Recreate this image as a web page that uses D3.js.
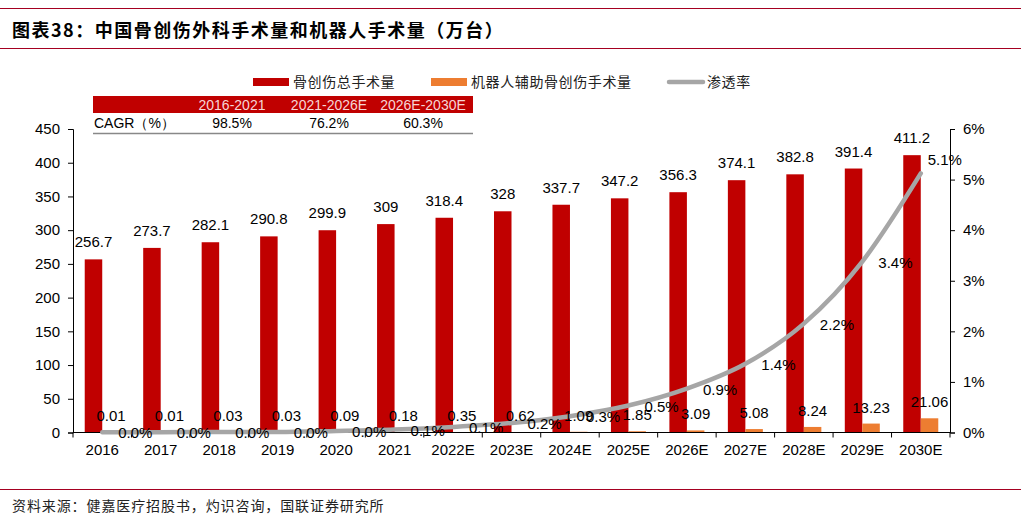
<!DOCTYPE html>
<html>
<head>
<meta charset="utf-8">
<script src="https://cdn.jsdelivr.net/npm/d3@7"></script>
<style>
  body { margin: 0; background: #fff; }
</style>
</head>
<body>
<div id="chart"></div>
<script>
// data
const years = ["2016", "2017", "2018", "2019", "2020", "2021", "2022E", "2023E", "2024E", "2025E", "2026E", "2027E", "2028E", "2029E", "2030E"];
const totalOps = [256.7, 273.7, 282.1, 290.8, 299.9, 309, 318.4, 328, 337.7, 347.2, 356.3, 374.1, 382.8, 391.4, 411.2];
const robotOps = [0.01, 0.01, 0.03, 0.03, 0.09, 0.18, 0.35, 0.62, 1.09, 1.85, 3.09, 5.08, 8.24, 13.23, 21.06];
const penetration = [0.004, 0.004, 0.011, 0.010, 0.030, 0.058, 0.110, 0.189, 0.323, 0.533, 0.867, 1.358, 2.153, 3.380, 5.122];
const leftTicks = [0, 50, 100, 150, 200, 250, 300, 350, 400, 450];
const rightTicks = [0, 1, 2, 3, 4, 5, 6];
const cagrPeriods = ["2016-2021", "2021-2026E", "2026E-2030E"];
const cagrValues = ["98.5%", "76.2%", "60.3%"];
const seriesNames = ["骨创伤总手术量", "机器人辅助骨创伤手术量", "渗透率"];

const W = 1021, H = 520;
const RED = "#C00000", ORANGE = "#ED7D31", GRAY = "#A6A6A6", LINE_RED = "#A50021";
const SANS = "'Liberation Sans', Arial, sans-serif";
const CJK = "'Noto Sans CJK SC', sans-serif";
const plot = { left: 73, right: 950, top: 129, bottom: 432.5 };

const svg = d3.select("#chart").append("svg")
    .attr("width", W)
    .attr("height", H)
    .attr("font-family", SANS);

// title block
svg.append("line").attr("x1", 0).attr("x2", W).attr("y1", 8.5).attr("y2", 8.5)
    .attr("stroke", LINE_RED).attr("stroke-width", 1);
svg.append("line").attr("x1", 0).attr("x2", W).attr("y1", 48.5).attr("y2", 48.5)
    .attr("stroke", LINE_RED).attr("stroke-width", 1);
svg.append("text")
    .attr("font-family", CJK)
    .attr("x", 12).attr("y", 37)
    .attr("font-size", 18).attr("font-weight", "bold").attr("fill", "#000")
    .attr("letter-spacing", 1.5)
    .text("图表38：中国骨创伤外科手术量和机器人手术量（万台）");

// footer
svg.append("line").attr("x1", 0).attr("x2", W).attr("y1", 489.5).attr("y2", 489.5)
    .attr("stroke", LINE_RED).attr("stroke-width", 1);
svg.append("text")
    .attr("font-family", CJK)
    .attr("x", 12).attr("y", 511)
    .attr("font-size", 14).attr("fill", "#222")
    .attr("letter-spacing", 0.9)
    .text("资料来源：健嘉医疗招股书，灼识咨询，国联证券研究所");

// scales
const x = d3.scaleBand().domain(years).range([plot.left, plot.right]).padding(0);
const xInner = d3.scaleBand().domain(["total", "robot"]).range([0, x.bandwidth()]).paddingOuter(0.67);
const y = d3.scaleLinear().domain([0, 450]).range([plot.bottom, plot.top]);
const yr = d3.scaleLinear().domain([0, 6]).range([plot.bottom, plot.top]);

// bars
const g = svg.append("g");
g.selectAll(".bar-total")
    .data(years)
    .enter().append("rect")
    .attr("class", "bar-total")
    .attr("x", d => x(d) + xInner("total"))
    .attr("width", xInner.bandwidth())
    .attr("y", (d, i) => y(totalOps[i]))
    .attr("height", (d, i) => y(0) - y(totalOps[i]))
    .attr("fill", RED);

g.selectAll(".bar-robot")
    .data(years)
    .enter().append("rect")
    .attr("class", "bar-robot")
    .attr("x", d => x(d) + xInner("robot"))
    .attr("width", xInner.bandwidth())
    .attr("y", (d, i) => y(robotOps[i]))
    .attr("height", (d, i) => y(0) - y(robotOps[i]))
    .attr("fill", ORANGE);

// axes
const yAxis = svg.append("g")
    .attr("transform", "translate(" + plot.left + ",0)")
    .call(d3.axisLeft(y).tickValues(leftTicks).tickSize(5).tickPadding(8));
const yrAxis = svg.append("g")
    .attr("transform", "translate(" + plot.right + ",0)")
    .call(d3.axisRight(yr).tickValues(rightTicks).tickSize(5).tickPadding(8).tickFormat(d => d + "%"));
[yAxis, yrAxis].forEach(a => {
    a.select(".domain").attr("stroke", "#000");
    a.selectAll(".tick line").attr("stroke", "#000");
    a.selectAll("text").attr("font-size", 15).attr("fill", "#000").attr("font-family", SANS);
});

const xAxis = svg.append("g")
    .attr("transform", "translate(0," + plot.bottom + ")")
    .call(d3.axisBottom(x).tickSize(0).tickPadding(12));
xAxis.select(".domain").remove();
xAxis.selectAll("text").attr("font-size", 15).attr("fill", "#000").attr("font-family", SANS);
xAxis.append("line")
    .attr("x1", plot.left).attr("x2", plot.right)
    .attr("stroke", "#000");
xAxis.selectAll(".sep")
    .data(years.concat(["end"]))
    .enter().append("line")
    .attr("class", "sep")
    .attr("x1", d => d === "end" ? plot.right : x(d))
    .attr("x2", d => d === "end" ? plot.right : x(d))
    .attr("y1", 0).attr("y2", 5)
    .attr("stroke", "#000");

// penetration line
const cx = d => x(d) + x.bandwidth() / 2;
const line = d3.line()
    .x(d => cx(d))
    .y((d, i) => yr(penetration[i]))
    .curve(d3.curveMonotoneX);
svg.append("path")
    .datum(years)
    .attr("d", line)
    .attr("fill", "none")
    .attr("stroke", GRAY)
    .attr("stroke-width", 4.5)
    .attr("stroke-linecap", "round");

// value labels
const last = years.length - 1;
const labels = svg.append("g").attr("font-size", 15).attr("fill", "#000");
labels.selectAll(".lbl-total")
    .data(years)
    .enter().append("text")
    .attr("x", d => x(d) + xInner("total") + xInner.bandwidth() / 2)
    .attr("y", (d, i) => y(totalOps[i]) - 12)
    .attr("text-anchor", "middle")
    .text((d, i) => String(totalOps[i]));

labels.selectAll(".lbl-robot")
    .data(years)
    .enter().append("text")
    .attr("x", d => x(d) + xInner("robot") + xInner.bandwidth() / 2)
    .attr("y", (d, i) => y(robotOps[i]) - 11)
    .attr("text-anchor", "middle")
    .text((d, i) => d3.format(".2f")(robotOps[i]));

labels.selectAll(".lbl-pen")
    .data(years)
    .enter().append("text")
    .attr("x", (d, i) => cx(d) + (i === last ? 7 : 16))
    .attr("y", (d, i) => yr(penetration[i]) + (i === last ? -8 : 6))
    .text((d, i) => d3.format(".1f")(penetration[i]) + "%");

// legend
const legend = svg.append("g");
const legendX = [253, 431, 667];
legend.append("rect").attr("x", legendX[0]).attr("y", 78).attr("width", 36).attr("height", 8).attr("fill", RED);
legend.append("rect").attr("x", legendX[1]).attr("y", 78).attr("width", 36).attr("height", 8).attr("fill", ORANGE);
legend.append("line").attr("x1", legendX[2] + 2).attr("x2", legendX[2] + 36).attr("y1", 82).attr("y2", 82)
    .attr("stroke", GRAY).attr("stroke-width", 4.5).attr("stroke-linecap", "round");
legend.selectAll(".legend-text")
    .data(seriesNames)
    .enter().append("text")
    .attr("font-family", CJK)
    .attr("font-size", 14)
    .attr("fill", "#222")
    .attr("x", (d, i) => legendX[i] + 40)
    .attr("y", 87)
    .attr("letter-spacing", 0.6)
    .text(d => d);

// CAGR table
const table = svg.append("g").attr("font-family", SANS);
const colX = [232, 329, 423];
table.append("rect").attr("x", 93).attr("y", 96).attr("width", 380).attr("height", 17).attr("fill", RED);
table.selectAll(".cagr-head")
    .data(cagrPeriods)
    .enter().append("text")
    .attr("x", (d, i) => colX[i])
    .attr("y", 110)
    .attr("text-anchor", "middle")
    .attr("font-size", 14)
    .attr("fill", "#F6D5D5")
    .text(d => d);
table.append("text")
    .attr("x", 94).attr("y", 128)
    .attr("font-size", 14).attr("fill", "#000")
    .text("CAGR（%）");
table.selectAll(".cagr-val")
    .data(cagrValues)
    .enter().append("text")
    .attr("x", (d, i) => colX[i])
    .attr("y", 128)
    .attr("text-anchor", "middle")
    .attr("font-size", 14)
    .attr("fill", "#000")
    .text(d => d);
table.append("line").attr("x1", 93).attr("x2", 473).attr("y1", 133.5).attr("y2", 133.5)
    .attr("stroke", "#888").attr("stroke-width", 1.5);
</script>
</body>
</html>
